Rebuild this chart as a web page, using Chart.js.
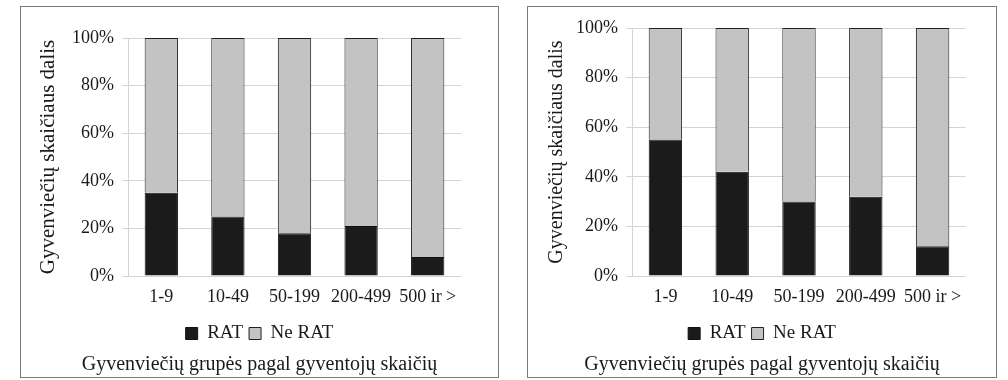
<!DOCTYPE html>
<html>
<head>
<meta charset="utf-8">
<script src="https://cdn.jsdelivr.net/npm/chart.js@4.4.1/dist/chart.umd.min.js"></script>
<style>
  html, body { margin: 0; padding: 0; background: #ffffff; }
  body { width: 1008px; height: 380px; position: relative; overflow: hidden; }
  .panel { position: absolute; border: 1px solid #7a7a7a; background: #fff; box-sizing: border-box; }
  .panel canvas { display: block; }
</style>
</head>
<body>
<div class="panel" id="p1" style="left:20px; top:6px; width:479px; height:372px;"><canvas id="c1" width="477" height="370"></canvas></div>
<div class="panel" id="p2" style="left:527px; top:6px; width:470px; height:372px;"><canvas id="c2" width="468" height="370"></canvas></div>
<script>
// ---- data ----
const categories = ['1-9', '10-49', '50-199', '200-499', '500 ir >'];
const seriesNames = ['RAT', 'Ne RAT'];
const ratLeft = [35, 25, 18, 21, 8];
const neRatLeft = [65, 75, 82, 79, 92];
const ratRight = [55, 42, 30, 32, 12];
const neRatRight = [45, 58, 70, 68, 88];
const yTickValues = [0, 20, 40, 60, 80, 100];
const yAxisTitle = 'Gyvenviečių skaičiaus dalis';
const xAxisTitle = 'Gyvenviečių grupės pagal gyventojų skaičių';

const FONT = "'Liberation Serif', 'Times New Roman', serif";
const TEXT = '#1a1a1a';

function makeChart(id, rat, neRat, g) {
  new Chart(document.getElementById(id), {
    type: 'bar',
    data: {
      labels: categories,
      datasets: [
        { label: seriesNames[0], data: rat, backgroundColor: '#1b1b1b', borderColor: '#111', borderWidth: 1,
          barPercentage: 0.5, categoryPercentage: 1.0 },
        { label: seriesNames[1], data: neRat, backgroundColor: '#c3c3c3', borderColor: '#222', borderWidth: 1,
          barPercentage: 0.5, categoryPercentage: 1.0 }
      ]
    },
    options: {
      responsive: false,
      animation: false,
      events: [],
      layout: { padding: { top: g.top, bottom: g.bottom, left: 0, right: 0 } },
      scales: {
        x: {
          stacked: true,
          grid: { display: false, drawTicks: false },
          border: { display: false },
          ticks: { color: TEXT, font: { family: FONT, size: 18 }, padding: 10, maxRotation: 0, autoSkip: false },
          afterFit: (s) => { s.height = g.xh; }
        },
        y: {
          stacked: true,
          min: 0, max: 100,
          afterBuildTicks: (s) => { s.ticks = yTickValues.map(v => ({ value: v })); },
          grid: { color: '#d4d4d4', lineWidth: 1, drawTicks: true, tickLength: 6, tickColor: '#d4d4d4' },
          border: { display: true, color: '#d4d4d4' },
          ticks: { color: TEXT, font: { family: FONT, size: 18 }, padding: 8, callback: (v) => v + '%' },
          title: { display: true, text: yAxisTitle, color: TEXT, font: { family: FONT, size: g.ytf }, padding: { top: g.ytp, bottom: 0 } },
          afterFit: (s) => { s.width = g.left; }
        },
        yr: {
          position: 'right',
          display: true,
          grid: { display: false, drawTicks: false },
          border: { display: false },
          ticks: { display: false },
          afterFit: (s) => { s.width = g.right; }
        }
      },
      plugins: {
        legend: {
          position: 'bottom',
          labels: { color: TEXT, font: { family: FONT, size: 19 }, boxWidth: 12, boxHeight: 12, padding: g.lp }
        },
        title: {
          display: true,
          position: 'bottom',
          text: xAxisTitle,
          color: TEXT,
          font: { family: FONT, size: 20, weight: 'normal' },
          padding: { top: 0, bottom: 0 }
        },
        tooltip: { enabled: false }
      }
    }
  });
}

makeChart('c1', ratLeft, neRatLeft, { top: 31, bottom: 0, xh: 42, left: 107, right: 37, lp: 6, ytp: 15, ytf: 21 });
makeChart('c2', ratRight, neRatRight, { top: 21, bottom: 0, xh: 42, left: 104, right: 30, lp: 6, ytp: 17, ytf: 20 });
</script>
</body>
</html>
